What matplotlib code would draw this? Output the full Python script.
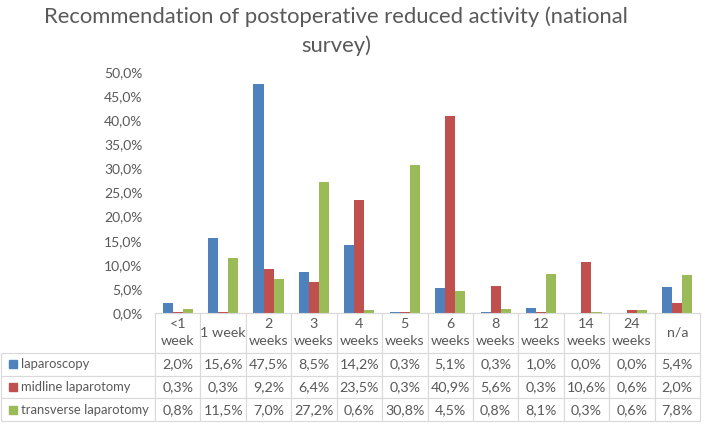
"""
Recommendation of postoperative reduced activity (national survey)
"""

import numpy as np
import matplotlib
matplotlib.use('Agg')
import matplotlib.pyplot as plt
from matplotlib.patches import Rectangle

plt.rcParams['font.family'] = ['Lato', 'DejaVu Sans']

# 数据
categories = ['<1\nweek', '1 week', '2\nweeks', '3\nweeks', '4\nweeks', '5\nweeks',
              '6\nweeks', '8\nweeks', '12\nweeks', '14\nweeks', '24\nweeks', 'n/a']
series_names = ['laparoscopy', 'midline laparotomy', 'transverse laparotomy']
laparoscopy = [2.0, 15.6, 47.5, 8.5, 14.2, 0.3, 5.1, 0.3, 1.0, 0.0, 0.0, 5.4]
midline = [0.3, 0.3, 9.2, 6.4, 23.5, 0.3, 40.9, 5.6, 0.3, 10.6, 0.6, 2.0]
transverse = [0.8, 11.5, 7.0, 27.2, 0.6, 30.8, 4.5, 0.8, 8.1, 0.3, 0.6, 7.8]
y_ticks = [0, 5, 10, 15, 20, 25, 30, 35, 40, 45, 50]

colors = ['#4F81BD', '#C0504D', '#9BBB59']
text_color = '#595959'
line_color = '#D9D9D9'


def pct(v):
    return f'{v:.1f}%'.replace('.', ',')


def main():
    fig = plt.figure(figsize=(7.08, 4.26), dpi=100)
    ax = fig.add_axes([155 / 708, 1 - 313 / 426, 545 / 708, (313 - 72) / 426])

    series = [laparoscopy, midline, transverse]
    x = np.arange(len(categories))
    width = 0.222
    for i, (vals, c) in enumerate(zip(series, colors)):
        ax.bar(x + (i - 1) * width, vals, width=width, color=c)

    ax.set_xlim(-0.5, len(categories) - 0.5)
    ax.set_ylim(0, 50)
    ax.set_yticks(y_ticks)
    ax.set_yticklabels([pct(v) for v in y_ticks], fontsize=10, color=text_color)
    ax.tick_params(axis='y', length=0, pad=9)
    ax.set_xticks([])
    for s in ['top', 'right', 'left']:
        ax.spines[s].set_visible(False)
    ax.spines['bottom'].set_color(line_color)

    fig.suptitle('Recommendation of postoperative reduced activity (national\nsurvey)',
                 fontsize=15.8, color=text_color, x=0.475, y=0.985, linespacing=1.5)

    # 数据表
    cell_text = [[''] + categories]
    for name, vals in zip(series_names, series):
        cell_text.append([name] + [pct(v) for v in vals])

    ax_h = 313 - 72
    top_px, bottom_px = 313, 421
    left_px = 1
    bbox = [(left_px - 155) / 545, -(bottom_px - top_px) / ax_h,
            (700 - left_px) / 545, (bottom_px - top_px) / ax_h]
    tbl = ax.table(cellText=cell_text, cellLoc='center', bbox=bbox)
    tbl.auto_set_font_size(False)
    for (r, c), cell in tbl.get_celld().items():
        cell.set_edgecolor(line_color)
        cell.set_linewidth(0.8)
        cell.get_text().set_color(text_color)
        cell.get_text().set_fontsize(10.3)
        cell.set_height(40 if r == 0 else 22.7)
        cell.set_width(154 if c == 0 else 45.4)
        if c == 0:
            cell.get_text().set_ha('left')
            cell.get_text().set_fontsize(9.4)
            cell.PAD = 20 / 154
        if r == 0 and c == 0:
            cell.visible_edges = ''
        if r == 0:
            cell.get_text().set_linespacing(1.5)

    # 图例方块
    for i, c in enumerate(colors):
        yc = 313 + 40 + 22.7 * i + 11.3
        fig.patches.append(Rectangle((9 / 708, 1 - (yc + 4) / 426), 8 / 708, 8 / 426,
                                     transform=fig.transFigure, color=c))

    plt.savefig('out.png')


if __name__ == '__main__':
    main()
